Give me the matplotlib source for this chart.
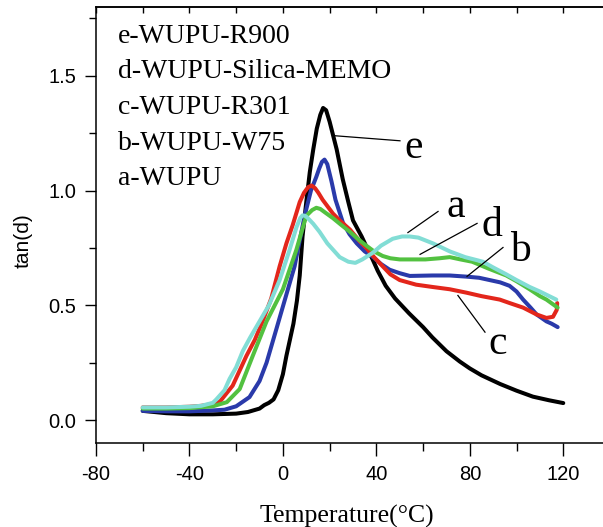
import matplotlib
matplotlib.use("Agg")
import matplotlib.pyplot as plt
from matplotlib.ticker import MultipleLocator

# ---------------- data ----------------
e_x = [-60, -50, -40, -30, -20, -15, -10, -8, -6, -4, -2, 0, 1.5, 3, 4.5, 6, 7.2, 8.4, 10, 11.5,
       13, 14.5, 16, 17.2, 18.5, 20, 21.5, 23, 25.6, 28, 30, 33.7, 36, 38.4, 40.6, 44, 48, 54, 60,
       64, 70, 75.7, 80, 85, 93, 100, 107, 114, 120]
e_y = [0.04, 0.03, 0.025, 0.025, 0.028, 0.035, 0.05, 0.065, 0.075, 0.09, 0.13, 0.20, 0.28, 0.35,
       0.42, 0.52, 0.63, 0.80, 0.95, 1.08, 1.18, 1.27, 1.33, 1.36, 1.35, 1.30, 1.24, 1.18, 1.05,
       0.95, 0.87, 0.80, 0.75, 0.70, 0.65, 0.585, 0.53, 0.465, 0.405, 0.36, 0.30, 0.255, 0.225,
       0.195, 0.157, 0.128, 0.102, 0.086, 0.074]

b_x = [-60, -50, -40, -30, -25, -20, -14.3, -10, -7, -2.7, 1, 5, 9.3, 12, 14.3, 15.5, 16.7,
       17.8, 19, 20.8, 22.5, 25.7, 28.5, 31.6, 35, 38.6, 42, 45.7, 50, 54.3, 64, 71.4, 78.6, 84,
       88.5, 93, 97, 100, 102.8, 106, 108.6, 112.8, 115, 117.6]
b_y = [0.04, 0.038, 0.038, 0.042, 0.045, 0.06, 0.10, 0.17, 0.25, 0.40, 0.53, 0.67, 0.89, 1.0,
       1.06, 1.095, 1.125, 1.135, 1.115, 1.04, 0.96, 0.86, 0.81, 0.77, 0.735, 0.71, 0.68, 0.655,
       0.64, 0.628, 0.63, 0.63, 0.625, 0.62, 0.61, 0.60, 0.585, 0.56, 0.525, 0.49, 0.46, 0.43,
       0.42, 0.405]

c_x = [-60, -50, -40, -35, -30, -27, -21.5, -15.6, -12, -8.7, -5, -1.4, 1.5, 4.2, 7.2, 9, 10.8,
       12.3, 13.8, 15.2, 17, 21.4, 24.3, 28.7, 32.8, 35.7, 39, 42.7, 46, 50, 57, 64, 71.4, 78.6,
       85, 92.8, 97, 102.8, 108.6, 112.8, 115.6, 117.2, 117.4]
c_y = [0.055, 0.055, 0.058, 0.062, 0.07, 0.08, 0.15, 0.28, 0.35, 0.43, 0.53, 0.67, 0.77, 0.85,
       0.95, 0.99, 1.015, 1.022, 1.01, 0.99, 0.96, 0.90, 0.87, 0.83, 0.78, 0.75, 0.71, 0.67,
       0.635, 0.61, 0.59, 0.58, 0.57, 0.555, 0.54, 0.525, 0.51, 0.49, 0.46, 0.445, 0.45, 0.48,
       0.51]

d_x = [-60, -50, -40, -30, -24, -18.5, -12.9, -7, 0, 5.7, 10, 12.5, 14.3, 16, 18, 21.4, 25, 28.7,
       32, 35.7, 39, 42.7, 46, 50, 55, 61, 67, 71.4, 76, 81, 88, 95.6, 100, 105.6, 110, 112.8,
       117.6]
d_y = [0.05, 0.05, 0.052, 0.06, 0.078, 0.135, 0.28, 0.43, 0.57, 0.74, 0.89, 0.915, 0.925, 0.92,
       0.905, 0.88, 0.85, 0.82, 0.79, 0.76, 0.735, 0.715, 0.705, 0.70, 0.70, 0.70, 0.705, 0.71,
       0.70, 0.69, 0.66, 0.63, 0.605, 0.57, 0.54, 0.525, 0.49]

a_x = [-60, -50, -40, -35, -30, -28.5, -25, -22.8, -20, -17.2, -14, -10, -6, -1.4, 2.8, 5.8, 7.4,
       8.4, 9.5, 10.5, 13, 15.7, 19, 24.3, 28, 31, 34, 38.6, 42, 47, 51, 54.3, 58, 64.2, 71.4, 78,
       85.6, 90, 95.6, 100, 105.6, 110, 114, 117]
a_y = [0.055, 0.055, 0.058, 0.062, 0.075, 0.09, 0.13, 0.18, 0.23, 0.30, 0.36, 0.43, 0.50, 0.61,
       0.74, 0.84, 0.88, 0.892, 0.89, 0.882, 0.855, 0.82, 0.77, 0.71, 0.69, 0.685, 0.70, 0.73,
       0.76, 0.79, 0.80, 0.80, 0.795, 0.77, 0.735, 0.71, 0.69, 0.665, 0.635, 0.61, 0.58, 0.56,
       0.54, 0.525]

legend_labels = ["e-WUPU-R900", "d-WUPU-Silica-MEMO", "c-WUPU-R301", "b-WUPU-W75", "a-WUPU"]
x_ticks = [-80, -40, 0, 40, 80, 120]
y_ticks = [0.0, 0.5, 1.0, 1.5]

# curve letter labels: (letter, text x, text y, leader from, leader to)
letter_labels = [
    ("e", 56.1, 1.143, (22.2, 1.239), (50.1, 1.217)),
    ("a", 74.1, 0.887, (53.5, 0.817), (66.4, 0.909)),
    ("d", 89.5, 0.800, (58.7, 0.722), (83.1, 0.857)),
    ("b", 101.5, 0.691, (78.8, 0.626), (94.2, 0.752)),
    ("c", 92.0, 0.287, (74.9, 0.543), (86.5, 0.383)),
]

# ---------------- figure ----------------
fig = plt.figure(figsize=(6.03, 5.27), dpi=100)
ax = fig.add_axes([96 / 603, 84 / 527, 514 / 603, 436 / 527])

style = dict(lw=2.9, solid_joinstyle="round", solid_capstyle="round")
ax.plot(e_x, e_y, color="#000000", zorder=2, **style)
ax.plot(b_x, b_y, color="#2a3aaa", zorder=3, **style)
ax.plot(c_x, c_y, color="#e3261b", zorder=3, **style)
ax.plot(d_x, d_y, color="#52c140", zorder=4, **style)
ax.plot(a_x, a_y, color="#82ddd5", zorder=5, **style)

ax.set_xlim(-80, 140)
ax.set_ylim(-0.1, 1.8)

sans = "Liberation Sans"
serif = "Liberation Serif"

ax.set_xticks(x_ticks)
ax.set_xticklabels([f"{t}" for t in x_ticks], family=sans, fontsize=14.5)
ax.set_yticks(y_ticks)
ax.set_yticklabels([f"{t:.1f}" for t in y_ticks], family=sans, fontsize=14.5)
ax.xaxis.set_minor_locator(MultipleLocator(20))
ax.yaxis.set_minor_locator(MultipleLocator(0.25))
ax.tick_params(axis="x", which="major", direction="out", length=9, width=1, pad=7)
ax.tick_params(axis="x", which="minor", direction="out", length=6, width=1)
ax.tick_params(axis="y", which="major", direction="out", length=8, width=1, pad=6)
ax.tick_params(axis="y", which="minor", direction="out", length=5, width=1)
for s in ax.spines.values():
    s.set_linewidth(1.1)

top = ax.secondary_xaxis("top")
top.set_xticks(list(range(-80, 141, 20)))
top.tick_params(direction="in", length=4, width=1, labeltop=False)
top.spines["top"].set_linewidth(1.1)

ax.set_xlabel("Temperature(°C)", family=serif, fontsize=18.5)
ax.xaxis.set_label_coords((347 - 96) / 514, -(523 - 443) / 436)
ax.xaxis.label.set_va("baseline")
ax.set_ylabel("tan(d)", family=sans, fontsize=15)
ax.yaxis.set_label_coords((33 - 96) / 514, (443 - 241) / 436)

for i, lab in enumerate(legend_labels):
    fig.text(118 / 603, 1 - (43 + 35.5 * i) / 527, lab, family=serif, fontsize=20,
             ha="left", va="baseline")

for letter, tx, ty, p0, p1 in letter_labels:
    ax.plot([p0[0], p1[0]], [p0[1], p1[1]], color="black", lw=0.9, zorder=6)
    ax.text(tx, ty, letter, family=serif, fontsize=30, ha="center", va="baseline", zorder=7)

fig.savefig("out.png", dpi=100)
